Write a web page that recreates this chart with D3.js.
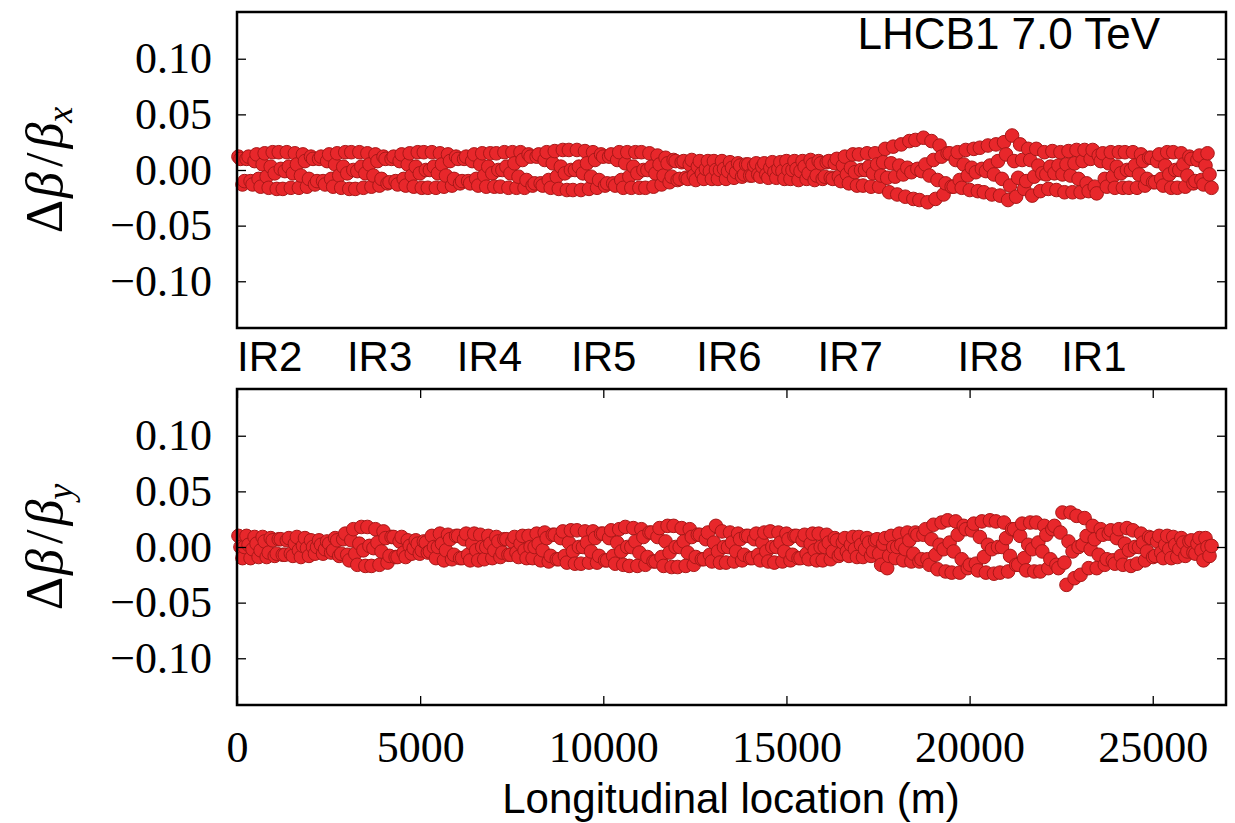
<!DOCTYPE html>
<html>
<head>
<meta charset="utf-8">
<script src="https://cdnjs.cloudflare.com/ajax/libs/d3/7.8.5/d3.min.js"></script>
<style>
  body { margin: 0; background: #fff; }
  .tick text { font-family: "Liberation Serif", serif; font-size: 44px; fill: #000; }
  .tick line { stroke: #000; stroke-width: 1.3; }
  .sans { font-family: "Liberation Sans", sans-serif; font-size: 42px; fill: #000; }
</style>
</head>
<body>
<div id="chart"></div>
<script>
// ||================================||
// || DATA                           ||
// ||================================||

// BPM longitudinal positions (m)
var bpmS = [
  40,95,150,205,260,315,370,425,480,535,590,645,700,755,810,865,920,975,1030,1085,
  1140,1195,1250,1305,1360,1415,1470,1525,1580,1635,1690,1745,1800,1855,1910,1965,2020,2075,2130,2185,
  2240,2295,2350,2405,2460,2515,2570,2625,2680,2735,2790,2845,2900,2955,3010,3065,3120,3175,3230,3285,
  3340,3395,3450,3505,3560,3615,3670,3725,3780,3835,3890,3945,4000,4055,4110,4165,4220,4275,4330,4385,
  4440,4495,4550,4605,4660,4715,4770,4825,4880,4935,4990,5045,5100,5155,5210,5265,5320,5375,5430,5485,
  5540,5595,5650,5705,5760,5815,5870,5925,5980,6035,6090,6145,6200,6255,6310,6365,6420,6475,6530,6585,
  6640,6695,6750,6805,6860,6915,6970,7025,7080,7135,7190,7245,7300,7355,7410,7465,7520,7575,7630,7685,
  7740,7795,7850,7905,7960,8015,8070,8125,8180,8235,8290,8345,8400,8455,8510,8565,8620,8675,8730,8785,
  8840,8895,8950,9005,9060,9115,9170,9225,9280,9335,9390,9445,9500,9555,9610,9665,9720,9775,9830,9885,
  9940,9995,10050,10105,10160,10215,10270,10325,10380,10435,10490,10545,10600,10655,10710,10765,10820,10875,10930,10985,
  11040,11095,11150,11205,11260,11315,11370,11425,11480,11535,11590,11645,11700,11755,11810,11865,11920,11975,12030,12085,
  12140,12195,12250,12305,12360,12415,12470,12525,12580,12635,12690,12745,12800,12855,12910,12965,13020,13075,13130,13185,
  13240,13295,13350,13405,13460,13515,13570,13625,13680,13735,13790,13845,13900,13955,14010,14065,14120,14175,14230,14285,
  14340,14395,14450,14505,14560,14615,14670,14725,14780,14835,14890,14945,15000,15055,15110,15165,15220,15275,15330,15385,
  15440,15495,15550,15605,15660,15715,15770,15825,15880,15935,15990,16045,16100,16155,16210,16265,16320,16375,16430,16485,
  16540,16595,16650,16705,16760,16815,16870,16925,16980,17035,17090,17145,17200,17255,17310,17365,17420,17475,17530,17585,
  17640,17695,17750,17805,17860,17915,17970,18025,18080,18135,18190,18245,18300,18355,18410,18465,18520,18575,18630,18685,
  18740,18795,18850,18905,18960,19015,19070,19125,19180,19235,19290,19345,19400,19455,19510,19565,19620,19675,19730,19785,
  19840,19895,19950,20005,20060,20115,20170,20225,20280,20335,20390,20445,20500,20555,20610,20665,20720,20775,20830,20885,
  20940,20995,21050,21105,21160,21215,21270,21325,21380,21435,21490,21545,21600,21655,21710,21765,21820,21875,21930,21985,
  22040,22095,22150,22205,22260,22315,22370,22425,22480,22535,22590,22645,22700,22755,22810,22865,22920,22975,23030,23085,
  23140,23195,23250,23305,23360,23415,23470,23525,23580,23635,23690,23745,23800,23855,23910,23965,24020,24075,24130,24185,
  24240,24295,24350,24405,24460,24515,24570,24625,24680,24735,24790,24845,24900,24955,25010,25065,25120,25175,25230,25285,
  25340,25395,25450,25505,25560,25615,25670,25725,25780,25835,25890,25945,26000,26055,26110,26165,26220,26275,26330,26385,
  26440,26495,26550,26605
]

// horizontal beta-beat, units of 1e-3
var dBetaX = [
  12,10,-13,-10, 10,12,-10,-13, 8,14,-8,-15, 5,15,-6,-16, 3,16,-3,-17,
  16,1,-17,-1, 16,3,-16,-3, 15,5,-16,-5, 14,8,-15,-8, 12,10,-13,-10,
  10,12,-10,-13, 8,14,-8,-15, 5,15,-5,-16, 3,16,-3,-17, 16,0,-17,-1,
  16,3,-16,-3, 15,5,-15,-5, 14,8,-14,-8, 12,10,-12,-11, 10,12,-10,-13,
  8,14,-8,-14, 5,15,-5,-15, 3,16,-3,-16, 16,0,-16,0, 16,3,-16,-3,
  15,5,-15,-5, 14,8,-14,-8, 12,10,-12,-10, 10,12,-10,-12, 8,14,-8,-14,
  5,15,-5,-15, 3,15,-3,-15, 15,0,-15,0, 16,3,-16,-3, 16,6,-16,-6,
  16,9,-16,-9, 14,12,-14,-12, 12,14,-12,-14, 9,16,-9,-16, 6,17,-6,-17,
  3,18,-3,-18, 18,0,-18,0, 18,3,-18,-3, 17,6,-17,-6, 16,9,-16,-9,
  14,12,-14,-12, 12,14,-12,-14, 9,16,-9,-16, 6,16,-6,-16, 3,16,-3,-16,
  16,0,-16,0, 15,3,-15,-3, 13,5,-13,-5, 11,6,-11,-6, 9,8,-9,-8,
  7,8,-7,-8, 5,9,-5,-9, 3,8,-3,-8, 1,8,-1,-8, 8,0,-8,0,
  8,1,-8,-1, 7,2,-7,-2, 6,4,-6,-4, 5,5,-5,-5, 4,6,-4,-6,
  3,6,-4,-7, 2,7,-2,-7, 1,7,-1,-8, 8,0,-8,0, 8,1,-9,-1,
  8,3,-8,-3, 9,5,-9,-5, 8,6,-8,-6, 7,8,-7,-8, 6,10,-6,-10,
  4,12,-4,-12, 2,14,-2,-14, 14,0,-14,0, 15,3,-15,-3, 15,5,-15,-5,
  7,19,-7,-20, 6,21,-6,-22, 4,23,-4,-24, 2,26,-2,-26, 27,1,-27,-1,
  29,5,-29,-5, 26,9,-26,-9, 22,12,-22,-12, 15,15,-15,-15, 9,16,-9,-16,
  5,18,-5,-18, 2,19,-2,-19, 20,1,-20,-1, 22,4,-22,-4, 23,8,-23,-8,
  25,14,-27,-14, 31,8,-24,-7, 23,9,-17,-10, 19,9,-23,-6, 19,4,-19,-3,
  16,-4,-17,3, 17,-3,-18,4, 16,-4,-20,5, 17,-5,-20,6, 18,-8,-20,8,
  18,-12,-19,10, 18,-15,-21,13, 8,15,-8,-15, 6,16,-6,-16, 3,16,-3,-16,
  16,0,-16,0, 16,4,-16,-4, 14,8,-14,-8, 11,11,-11,-11, 8,14,-8,-14,
  4,16,-4,-16, 16,0,-16,0, 15,5,-15,-5, 12,10,-12,-10, 9,13,-9,-13,
  4,15,-4,-16
]

// vertical beta-beat, units of 1e-3
var dBetaY = [
  10,0,-10,0, 10,2,-10,-2, 9,3,-9,-3, 9,5,-9,-5, 8,6,-8,-6,
  7,7,-7,-7, 6,8,-6,-8, 3,9,-3,-9, 1,8,-1,-8, 6,0,-6,0,
  6,2,-6,-2, 5,3,-5,-3, 8,6,-8,-6, 7,12,-7,-12, 6,16,-6,-16,
  3,18,-3,-17, 18,1,-17,-1, 16,4,-16,-4, 14,8,-14,-8, 9,9,-9,-9,
  5,9,-5,-9, 6,1,-6,-1, 6,3,-6,-3, 5,4,-5,-4, 10,0,-10,0,
  12,3,-12,-3, 11,7,-11,-7, 10,10,-10,-10, 7,12,-7,-12, 3,12,-3,-12,
  11,0,-11,0, 10,3,-10,-3, 9,5,-9,-5, 7,7,-7,-7, 5,9,-5,-9,
  3,10,-3,-10, 10,0,-10,0, 12,3,-12,-3, 13,8,-13,-8, 11,11,-11,-11,
  8,14,-8,-14, 4,15,-4,-15, 15,0,-15,0, 14,4,-14,-4, 14,8,-14,-8,
  12,12,-12,-12, 8,15,-8,-15, 4,16,-4,-16, 18,0,-17,0, 17,5,-17,-5,
  16,9,-16,-9, 13,13,-13,-13, 9,17,-9,-17, 5,19,-5,-18, 19,0,-18,0,
  17,5,-17,-5, 16,9,-16,-9, 11,11,-11,-11, 7,13,-7,-13, 4,19,-4,-14,
  14,0,-14,0, 13,4,-13,-4, 12,7,-12,-7, 10,10,-10,-10, 7,12,-7,-12,
  4,13,-4,-13, 14,0,-14,0, 13,4,-13,-4, 12,7,-12,-7, 10,10,-10,-10,
  6,11,-6,-11, 3,12,-3,-12, 12,0,-12,0, 11,4,-11,-4, 8,6,-8,-6,
  4,8,-4,-8, 2,9,-2,-9, 9,2,-9,-2, 8,4,-8,-4, 6,7,-6,-16,
  3,8,-19,-8, 10,0,-10,0, 12,2,-12,-2, 13,6,-13,-6, 13,11,-13,-11,
  11,16,-11,-16, 7,20,-7,-20, 2,22,-2,-22, 24,4,-23,-4, 23,11,-23,-11,
  19,16,-19,-16, 15,21,-15,-21, 9,23,-9,-23, 2,24,-2,-24, 23,0,-23,0,
  22,8,-22,-8, 16,16,-16,-16, 10,21,-10,-21, 2,22,-2,-22, 22,4,-22,-4,
  19,11,-19,-11, 16,19,-16,-19, 13,31,-14,-34, 5,31,-4,-28, 28,0,-25,2,
  26,10,-19,-2, 19,7,-19,-7, 16,11,-16,-11, 12,15,-12,-15, 8,16,-8,-16,
  3,17,-3,-17, 15,0,-15,0, 12,4,-12,-4, 9,8,-9,-8, 5,10,-5,-10,
  2,10,-2,-10, 9,2,-9,-2, 8,4,-8,-4, 5,6,-5,-6, 3,8,-3,-12,
  8,0,-8,1
]

var yTicks = [-0.10, -0.05, 0.00, 0.05, 0.10]
var xTicks = [0, 5000, 10000, 15000, 20000, 25000]
var irNames = ["IR2", "IR3", "IR4", "IR5", "IR6", "IR7", "IR8", "IR1"]
var irS = [0, 3000, 6000, 9120, 12540, 15850, 19670, 22500]

// ||================================||
// || LAYOUT                         ||
// ||================================||

var width = 1235,
    height = 823;

var svg = d3.select("#chart")
  .append("svg")
    .attr("width", width)
    .attr("height", height);

var x = d3.scaleLinear().domain([0, 27000]).range([237, 1226]);

function drawPanel(y0, y1, values, sub, isBottom) {
  var y = d3.scaleLinear().domain([-0.142, 0.142]).range([y1, y0]);
  var g = svg.append("g");

  var pts = bpmS.map(function(s, i) { return { s: s, v: values[i] / 1000 }; })
    .filter(function(d) { return d.v !== undefined && !isNaN(d.v); });

  g.append("g").selectAll("circle")
    .data(pts)
    .enter().append("circle")
      .attr("cx", function(d) { return x(d.s); })
      .attr("cy", function(d) { return y(d.v); })
      .attr("r", 6.8)
      .attr("fill", "#e8272b")
      .attr("stroke", "#a81818")
      .attr("stroke-width", 1);

  var left = g.append("g")
      .attr("transform", "translate(" + x.range()[0] + ",0)")
      .call(d3.axisLeft(y).tickValues(yTicks).tickFormat(d3.format(".2f"))
        .tickSizeInner(-9).tickSizeOuter(0).tickPadding(25));
  left.select(".domain").remove();

  var right = g.append("g")
      .attr("transform", "translate(" + x.range()[1] + ",0)")
      .call(d3.axisRight(y).tickValues(yTicks).tickFormat("")
        .tickSizeInner(-9).tickSizeOuter(0));
  right.select(".domain").remove();

  if (isBottom) {
    var bot = g.append("g")
        .attr("transform", "translate(0," + y1 + ")")
        .call(d3.axisBottom(x).tickValues(xTicks).tickFormat(d3.format("d"))
          .tickSizeInner(-9).tickSizeOuter(0).tickPadding(26));
    bot.select(".domain").remove();
    var topAx = g.append("g")
        .attr("transform", "translate(0," + y0 + ")")
        .call(d3.axisTop(x).tickValues(xTicks).tickFormat("")
          .tickSizeInner(-9).tickSizeOuter(0));
    topAx.select(".domain").remove();
  }

  g.append("rect")
      .attr("x", x.range()[0])
      .attr("y", y0)
      .attr("width", x.range()[1] - x.range()[0])
      .attr("height", y1 - y0)
      .attr("fill", "none")
      .attr("stroke", "#000")
      .attr("stroke-width", 2.5);

  // y label: delta beta / beta_sub
  var cy = (y0 + y1) / 2;
  var lab = g.append("text")
      .attr("transform", "translate(62," + cy + ") rotate(-90)")
      .attr("text-anchor", "middle")
      .style("font-family", "'Liberation Serif', serif")
      .style("font-size", "52px");
  lab.append("tspan").text("\u0394");
  lab.append("tspan").attr("dx", 2).style("font-style", "italic").text("\u03b2");
  lab.append("tspan").attr("dx", 5).text("/");
  lab.append("tspan").attr("dx", 4).style("font-style", "italic").text("\u03b2");
  lab.append("tspan").attr("dy", 10).style("font-style", "italic").style("font-size", "36px").text(sub);

  return y;
}

drawPanel(12, 328, dBetaX, "x", false);
drawPanel(389, 705, dBetaY, "y", true);

// IR labels between the panels
svg.append("g").selectAll("text")
  .data(irNames)
  .enter().append("text")
    .attr("class", "sans")
    .attr("x", function(d, i) { return x(irS[i]); })
    .attr("y", 371)
    .text(function(d) { return d; });

svg.append("text")
    .attr("class", "sans")
    .attr("x", 1160)
    .attr("y", 49)
    .attr("text-anchor", "end")
    .style("font-size", "44px")
    .text("LHCB1 7.0 TeV");

svg.append("text")
    .attr("class", "sans")
    .attr("x", 731)
    .attr("y", 813)
    .attr("text-anchor", "middle")
    .text("Longitudinal location (m)");
</script>
</body>
</html>
